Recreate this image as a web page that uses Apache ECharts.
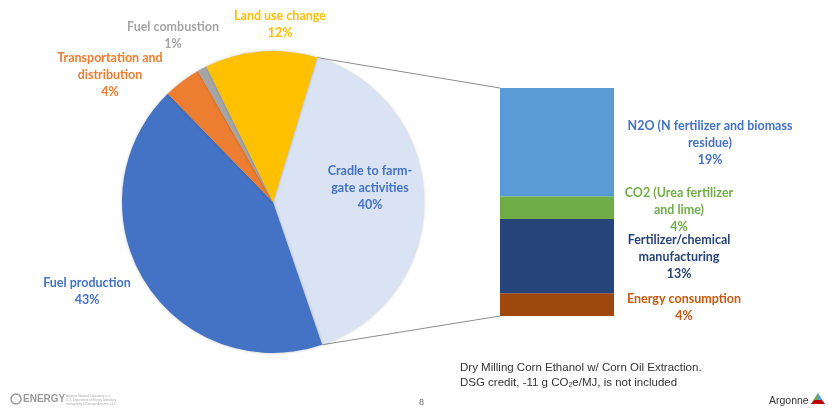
<!DOCTYPE html>
<html><head><meta charset="utf-8">
<script src="https://cdn.jsdelivr.net/npm/echarts@6/dist/echarts.min.js"></script>
<style>html,body{margin:0;padding:0;background:#fff}#c{width:828px;height:411px}</style>
</head><body><div id="c"></div>
<script>
// Pie data (clockwise from the top-right boundary)
const pieNames = ['Cradle to farm-\ngate activities', 'Fuel production', 'Transportation and\ndistribution', 'Fuel combustion', 'Land use change'];
const pieValues = [40, 43, 4, 1, 12];
const pieColors = ['#DAE3F3', '#4472C4', '#ED7D31', '#A5A5A5', '#FFC000'];
const pieLabelColors = ['#4472C4', '#4472C4', '#ED7D31', '#A5A5A5', '#FFC000'];
// Breakdown of cradle-to-farm-gate (bottom to top)
const barNames = ['Energy consumption', 'Fertilizer/chemical\nmanufacturing', 'CO2 (Urea fertilizer\nand lime)', 'N2O (N fertilizer and biomass\nresidue)'];
const barValues = [4, 13, 4, 19];
const barColors = ['#9E480E', '#264478', '#70AD47', '#5B9BD5'];
const barLabelColors = ['#C55A11', '#264478', '#70AD47', '#4472C4'];

const chart = echarts.init(document.getElementById('c'));
const PIE_C = [273, 202], PIE_R = 151, START = 73;
const pieLabelPos = [[370, 188], [87, 291], [110, 75], [173, 35], [280, 24]];
const barLabelOffset = [[70, 3], [65, 1], [65, 2], [96, 1]];
const font = 'Lato, "Open Sans", sans-serif';

const series = [{
  type: 'pie', center: PIE_C, radius: PIE_R, startAngle: START, clockwise: true,
  avoidLabelOverlap: false,
  itemStyle: { shadowBlur: 3, shadowColor: 'rgba(0,0,0,0.25)' },
  data: pieNames.map((n, i) => ({
    name: n, value: pieValues[i],
    itemStyle: { color: pieColors[i] },
    label: { color: pieLabelColors[i] }
  })),
  label: {
    show: true, position: 'outside', formatter: p => p.name + '\n' + p.value + '%',
    fontFamily: font, fontWeight: 'bold', fontSize: 12.5, lineHeight: 17, align: 'center'
  },
  labelLine: { show: false },
  labelLayout: p => ({ x: pieLabelPos[p.dataIndex][0], y: pieLabelPos[p.dataIndex][1], align: 'center', verticalAlign: 'middle' }),
  emphasis: { disabled: true }, silent: true
}];
barNames.forEach((n, i) => {
  series.push({
    type: 'bar', stack: 'farm', name: n, barWidth: '100%',
    data: [barValues[i]], itemStyle: { color: barColors[i] },
    label: {
      show: true, position: ['100%', '50%'], offset: barLabelOffset[i],
      formatter: p => n + '\n' + p.value + '%', color: barLabelColors[i],
      fontFamily: font, fontWeight: 'bold', fontSize: 12.5, lineHeight: 17,
      align: 'center', verticalAlign: 'middle'
    },
    silent: true
  });
});

chart.setOption({
  animation: false,
  grid: { left: 500, top: 88, width: 114, height: 228 },
  xAxis: { type: 'category', data: ['farm'], show: false },
  yAxis: { type: 'value', min: 0, max: 40, show: false },
  series: series
});

function connectors() {
  const a1 = START * Math.PI / 180;
  const a2 = (START - 360 * pieValues[0] / pieValues.reduce((s, v) => s + v, 0)) * Math.PI / 180;
  const p1 = [PIE_C[0] + PIE_R * Math.cos(a1), PIE_C[1] - PIE_R * Math.sin(a1)];
  const p2 = [PIE_C[0] + PIE_R * Math.cos(a2), PIE_C[1] - PIE_R * Math.sin(a2)];
  const total = barValues.reduce((s, v) => s + v, 0);
  const top = chart.convertToPixel({ gridIndex: 0 }, [0, total]);
  const bot = chart.convertToPixel({ gridIndex: 0 }, [0, 0]);
  const leftX = 500;
  const ls = { stroke: '#8c8c8c', lineWidth: 1 };
  const nf = '11.5px "Liberation Sans", Arial';
  chart.setOption({
    graphic: [
      { type: 'line', shape: { x1: p1[0], y1: p1[1], x2: leftX, y2: top[1] }, style: ls, z: 1 },
      { type: 'line', shape: { x1: p2[0], y1: p2[1], x2: leftX, y2: bot[1] }, style: ls, z: 1 },
      { type: 'text', left: 460, top: 362, style: { text: 'Dry Milling Corn Ethanol w/ Corn Oil Extraction.', font: nf, fill: '#333' } },
      { type: 'text', left: 460, top: 377, style: { text: 'DSG credit, -11 g CO{s|2}e/MJ, is not included', font: nf, fill: '#333', rich: { s: { fontSize: 7, verticalAlign: 'bottom', padding: [5, 0, 0, 0], fill: '#333', fontFamily: '"Liberation Sans", Arial' } } } },
      { type: 'text', left: 419, top: 398, style: { text: '8', font: '9px "Liberation Sans", Arial', fill: '#666' } },
      { type: 'circle', shape: { cx: 16, cy: 399, r: 5 }, style: { fill: 'none', stroke: '#999', lineWidth: 1.5 } },
      { type: 'text', left: 23, top: 394, style: { text: 'ENERGY', font: 'bold 10px "Liberation Sans", Arial', fill: '#999' } },
      { type: 'text', left: 66, top: 394, style: { text: 'Argonne National Laboratory is a\nU.S. Department of Energy laboratory\nmanaged by UChicago Argonne, LLC.', font: '3px Arial', fill: '#aaa', lineHeight: 4 } },
      { type: 'text', left: 769, top: 396, style: { text: 'Argonne', font: '10.5px "Liberation Sans", Arial', fill: '#333' } },
      { type: 'polygon', shape: { points: [[818, 393], [811, 404], [825, 404]] }, style: { fill: '#5B9BD5' } },
      { type: 'polygon', shape: { points: [[818, 393], [811, 404], [818, 404]] }, style: { fill: '#70AD47' } },
      { type: 'polygon', shape: { points: [[814.5, 400], [811, 404], [825, 404], [821.5, 400]] }, style: { fill: '#C00000' } }
    ]
  });
}
connectors();
</script></body></html>
